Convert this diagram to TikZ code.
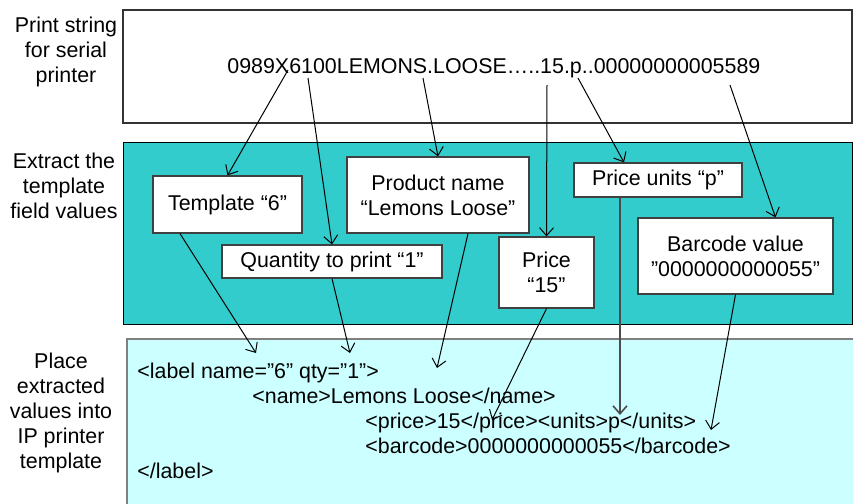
\documentclass[tikz,border=0pt]{standalone}
\usepackage{fontspec}
\setmainfont{Liberation Sans}
\usetikzlibrary{arrows.meta,calc}
\definecolor{fieldbg}{RGB}{51,204,204}
\definecolor{xmlbg}{RGB}{204,255,255}
\tikzset{
  field/.style={draw=black!75, fill=white, line width=0.6pt, align=center, inner sep=0pt},
  link/.style={line width=0.5pt, -{Straight Barb[length=4pt,width=7pt]}},
  lbl/.style={align=center},
  txt/.style={anchor=base west, inner sep=0pt},
}
\begin{document}
\begin{tikzpicture}[x=0.5pt,y=-0.5pt,font=\fontsize{10.7}{12.6}\selectfont]
\useasboundingbox (0,0) rectangle (853,504);
\draw[black!80,line width=0.6pt,fill=white] (123,10) rectangle (852,123);
\draw[black,line width=0.5pt,fill=fieldbg] (123,142) rectangle (852,324);
\draw[gray,line width=1pt,fill=xmlbg] (127,339) rectangle (858,510);

\node[lbl] (lprint) at (66,52) {Print string\\for serial\\printer};
\node[lbl] (lextract) at (64,186) {Extract the\\template\\field values};
\node[lbl] (lplace) at (61,413) {Place\\extracted\\values into\\IP printer\\template};

\node[txt] (raw) at (227,73) {0989X6100LEMONS.LOOSE…..15.p..00000000005589};
\coordinate (rX) at (288,70);
\coordinate (r61) at (308,78);
\coordinate (rL) at (423,78);
\coordinate (r15) at (547,85);
\coordinate (rp) at (578,78);
\coordinate (rbc) at (730,85);

\node[field,minimum width=74.5pt,minimum height=28.5pt] (tmpl) at (227.5,204.5) {Template “6”};
\node[field,minimum width=110pt,minimum height=16.5pt] (qty) at (332,261.5) {Quantity to print “1”};
\node[field,minimum width=91pt,minimum height=38pt] (prod) at (438,195) {Product name\\“Lemons Loose”};
\node[field,minimum width=47.5pt,minimum height=35.5pt] (price) at (546.5,272.5) {Price\\“15”};
\node[field,minimum width=84pt,minimum height=17pt] (units) at (658,180) {Price units “p”};
\node[field,minimum width=97.5pt,minimum height=38pt] (bar) at (735.5,256) {Barcode value\\”0000000000055"};

\draw[link] (rX) -- (tmpl.north);
\draw[link] (r61) -- (qty.north);
\draw[link] (rL) -- (prod.north);
\draw[link] (r15) -- (price.north);
\draw[link] (rp) -- ([xshift=-17pt]units.north);
\draw[link] (rbc) -- ([xshift=20pt]bar.north);

\node[txt] (xml1) at (137,378) {<label name=”6" qty=”1">};
\node[txt] (xml2) at (252,403) {<name>Lemons Loose</name>};
\node[txt] (xml3) at (365,428) {<price>15</price><units>p</units>};
\node[txt] (xml4) at (365,453) {<barcode>0000000000055</barcode>};
\node[txt] (xml5) at (137,478) {</label>};
\coordinate (xname) at (256,353);
\coordinate (xqty) at (350,353);
\coordinate (xlemon) at (437,368);
\coordinate (xprice) at (492,420);
\coordinate (xunits) at (620,415);
\coordinate (xbar) at (711,430);

\draw[link] ([xshift=-23.75pt]tmpl.south) -- (xname);
\draw[link] (qty.south) -- (xqty);
\draw[link] ([xshift=15pt]prod.south) -- (xlemon);
\draw[link] (price.south) -- (xprice);
\draw[link,black!70,line width=0.8pt] ([xshift=-19pt]units.south) -- (xunits);
\draw[link] (bar.south) -- (xbar);
\end{tikzpicture}
\end{document}
